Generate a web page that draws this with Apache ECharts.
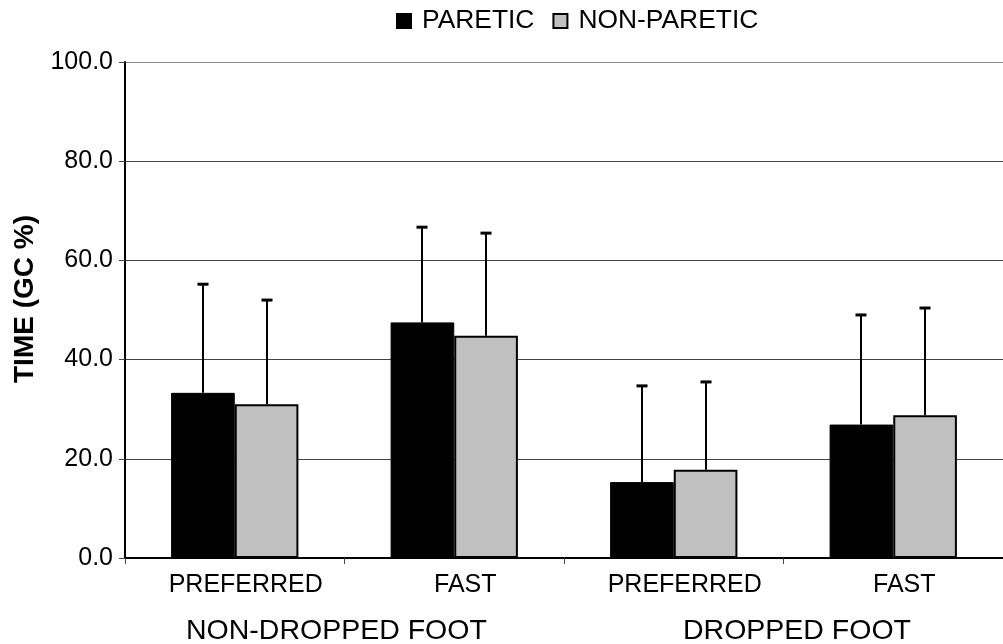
<!DOCTYPE html>
<html>
<head>
<meta charset="utf-8">
<script src="https://cdn.jsdelivr.net/npm/echarts@6/dist/echarts.min.js"></script>
<style>html,body{margin:0;padding:0;background:#fff}#c{width:1003px;height:644px}</style>
</head>
<body>
<div id="c"></div>
<script>
var categories = ['PREFERRED', 'FAST', 'PREFERRED', 'FAST'];
var groupLabels = ['NON-DROPPED FOOT', 'DROPPED FOOT'];
var seriesNames = ['PARETIC', 'NON-PARETIC'];
var pareticMean = [33.3, 47.5, 15.3, 26.9];
var pareticSD = [21.9, 19.2, 19.4, 22.1];
var nonPareticMean = [31.0, 44.8, 17.8, 28.8];
var nonPareticSD = [21.0, 20.7, 17.7, 21.6];
var yTicks = { min: 0, max: 100, interval: 20 };
var yTitle = 'TIME (GC %)';

var FONT = '"Liberation Sans", Arial, sans-serif';
var GAP = 0.42;

function errData(mean, sd) {
  return mean.map(function (m, i) { return [i, m, m + sd[i]]; });
}
function errRender(side) {
  return function (params, api) {
    var idx = api.value(0);
    var bw = api.size([1, 0])[0];
    var barW = bw * (1 - GAP) / 2;
    var low = api.coord([idx, api.value(1)]);
    var high = api.coord([idx, api.value(2)]);
    var x = Math.round(low[0] + side * barW / 2);
    var cap = 5.5;
    return {
      type: 'group',
      children: [
        { type: 'line', shape: { x1: x, y1: low[1], x2: x, y2: high[1] }, style: { stroke: '#000', lineWidth: 2 } },
        { type: 'line', shape: { x1: x - cap, y1: high[1], x2: x + cap, y2: high[1] }, style: { stroke: '#000', lineWidth: 3 } }
      ]
    };
  };
}

var chart = echarts.init(document.getElementById('c'), null, { renderer: 'canvas' });
chart.setOption({
  backgroundColor: '#fff',
  animation: false,
  textStyle: { fontFamily: FONT },
  legend: {
    data: seriesNames,
    top: 8,
    left: 396,
    padding: 0,
    itemWidth: 14,
    itemHeight: 14,
    itemGap: 18,
    textStyle: { fontFamily: FONT, fontSize: 26.4, color: '#000', padding: [0, 0, 0, 6] },
    icon: 'rect'
  },
  grid: { left: 125, top: 62, width: 884, height: 496, containLabel: false },
  xAxis: {
    type: 'category',
    data: categories,
    axisLine: { lineStyle: { color: '#000', width: 2 } },
    axisTick: { show: true, length: 6, lineStyle: { color: '#444', width: 1 } },
    axisLabel: { fontFamily: FONT, fontSize: 25, color: '#000', margin: 15, padding: [0, 0, 0, 22] },
    splitLine: { show: false }
  },
  yAxis: {
    type: 'value',
    min: yTicks.min,
    max: yTicks.max,
    interval: yTicks.interval,
    axisLine: { show: true, lineStyle: { color: '#000', width: 2 } },
    axisTick: { show: true, length: 6, lineStyle: { color: '#444', width: 1 } },
    axisLabel: { fontFamily: FONT, fontSize: 25, color: '#000', margin: 12, formatter: function (v) { return v.toFixed(1); } },
    splitLine: { show: true, lineStyle: { color: ['#444', '#444', '#444', '#444', '#444', '#888'], width: 1 } }
  },
  series: [
    {
      name: seriesNames[0], type: 'bar', data: pareticMean,
      barGap: '0%', barCategoryGap: (GAP * 100) + '%',
      itemStyle: { color: '#000', borderColor: '#000', borderWidth: 1 }
    },
    {
      name: seriesNames[1], type: 'bar', data: nonPareticMean,
      barGap: '0%', barCategoryGap: (GAP * 100) + '%',
      itemStyle: { color: '#c0c0c0', borderColor: '#000', borderWidth: 2 }
    },
    {
      type: 'custom', name: 'errP', renderItem: errRender(-1), data: errData(pareticMean, pareticSD),
      encode: { x: 0, y: [1, 2] }, z: 10, silent: true
    },
    {
      type: 'custom', name: 'errN', renderItem: errRender(1), data: errData(nonPareticMean, nonPareticSD),
      encode: { x: 0, y: [1, 2] }, z: 10, silent: true
    }
  ],
  graphic: [
    { type: 'text', x: 25, y: 299, rotation: Math.PI / 2,
      style: { text: yTitle, font: 'bold 28px ' + FONT, fill: '#000', align: 'center', verticalAlign: 'middle' } },
    { type: 'text', x: 186, y: 631, style: { text: groupLabels[0], font: '28.5px ' + FONT, fill: '#000', align: 'left', verticalAlign: 'middle' } },
    { type: 'text', x: 683, y: 631, style: { text: groupLabels[1], font: '28.5px ' + FONT, fill: '#000', align: 'left', verticalAlign: 'middle' } }
  ]
});
</script>
</body>
</html>
